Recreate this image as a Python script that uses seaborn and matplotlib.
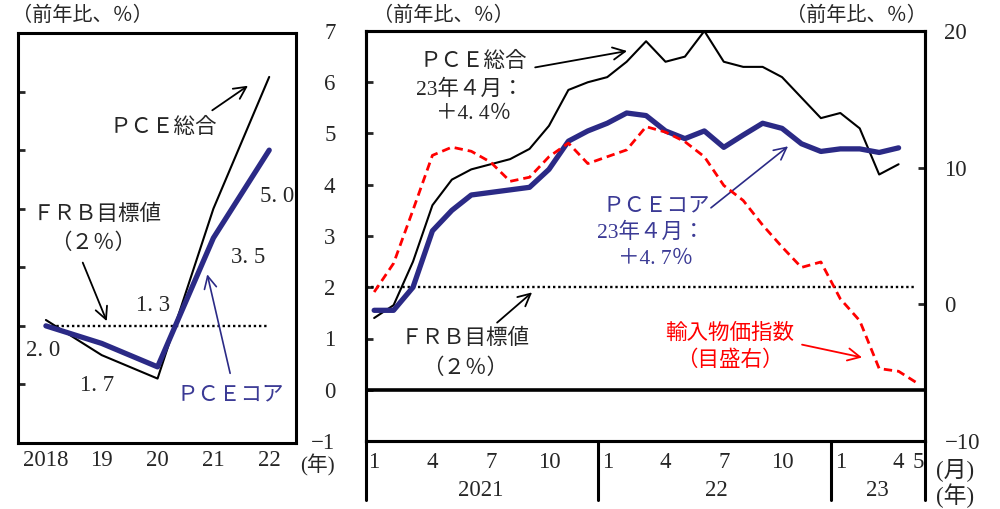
import matplotlib
matplotlib.use('Agg')
import matplotlib.pyplot as plt
import matplotlib.transforms as mtransforms
import seaborn as sns

# ---- data ----
# left panel: annual averages (2018-2022)
year_pos = [0, 1, 2, 3, 4]
year_labels = ['2018', '19', '20', '21', '22']
pce_total_annual = [2.1, 1.5, 1.1, 4.0, 6.25]
pce_core_annual = [2.0, 1.7, 1.3, 3.5, 5.0]
core_value_labels = ['2. 0', '1. 7', '1. 3', '3. 5', '5. 0']

# right panel: monthly, Jan 2021 -> May 2023
month_pos = list(range(29))
pce_total_monthly = [1.4, 1.65, 2.5, 3.6, 4.1, 4.3, 4.4, 4.5, 4.7, 5.15, 5.85, 6.0,
                     6.1, 6.4, 6.8, 6.4, 6.5, 7.0, 6.4, 6.3, 6.3, 6.1, 5.7, 5.3,
                     5.4, 5.1, 4.2, 4.4]
pce_core_monthly = [1.55, 1.55, 2.0, 3.1, 3.5, 3.8, 3.85, 3.9, 3.95, 4.3, 4.85, 5.05,
                    5.2, 5.4, 5.35, 5.05, 4.9, 5.05, 4.73, 4.97, 5.2, 5.1, 4.8, 4.65,
                    4.7, 4.7, 4.63, 4.72]
import_prices = [0.9, 3.0, 6.9, 10.9, 11.5, 11.2, 10.4, 9.0, 9.3, 10.8, 11.8, 10.3,
                 10.8, 11.3, 13.0, 12.6, 11.9, 10.8, 8.7, 7.6, 5.8, 4.2, 2.7, 3.1,
                 0.4, -1.2, -4.7, -4.9, -5.8]
month_ticks = [0, 3, 6, 9, 12, 15, 18, 21, 24, 27, 28]
month_labels = ['1', '4', '7', '10', '1', '4', '7', '10', '1', '4', '5']
year_groups = ['2021', '22', '23']
year_group_centers = [5.5, 17.6, 25.9]
year_breaks = [11.5, 23.5]
frb_target = 2.0

# ---- style ----
sns.set_style('white')
plt.rcParams['font.family'] = ['Liberation Serif', 'Noto Sans CJK JP']
plt.rcParams['axes.unicode_minus'] = True

navy = '#2B2A86'
navy_text = '#3B3A95'
red = '#FF0000'
FS = 15.5     # annotation text
NS = 16.5     # tick numbers

W, H = 1000, 509
fig = plt.figure(figsize=(W / 100, H / 100), dpi=100)


def rect(x0, y0, x1, y1):
    return [x0 / W, 1 - y1 / H, (x1 - x0) / W, (y1 - y0) / H]


def arrow(ax, tail, tip, color='black', lw=1.3):
    ax.annotate('', xy=tip, xytext=tail,
                arrowprops=dict(arrowstyle='->', color=color, lw=lw,
                                mutation_scale=22, shrinkA=0, shrinkB=0))


# ---------------- left panel ----------------
ax1 = fig.add_axes(rect(18, 33, 296, 443))
ax1.hlines(frb_target, year_pos[0], year_pos[-1], colors='black',
           linestyles=(0, (1, 1.2)), lw=1.7)
sns.lineplot(x=year_pos, y=pce_total_annual, ax=ax1, color='black', lw=1.5)
sns.lineplot(x=year_pos, y=pce_core_annual, ax=ax1, color=navy, lw=3.8)
ax1.set_xlim(-0.5, 4.48)
ax1.set_ylim(0, 7)
ax1.set_xticks(year_pos)
ax1.set_xticklabels(year_labels, fontsize=NS)
ax1.set_yticks([1, 2, 3, 4, 5, 6])
ax1.set_yticklabels([])
ax1.tick_params(axis='x', length=0, pad=5)
ax1.tick_params(axis='y', direction='in', length=5, width=2, left=True)
ax1.set_xlabel('')
ax1.set_ylabel('')
for sp in ax1.spines.values():
    sp.set_linewidth(2.2)
    sp.set_color('black')

# value labels for core PCE
core_label_xy = [(-0.05, 1.58), (0.91, 0.98), (1.92, 2.34), (3.62, 3.17), (4.14, 4.2)]
for (lx, ly), s in zip(core_label_xy, core_value_labels):
    ax1.text(lx, ly, s, ha='center', va='center', fontsize=NS)

ax1.text(2.10, 5.37, 'ＰＣＥ総合', ha='center', va='center', fontsize=FS)
arrow(ax1, (2.98, 5.68), (3.62, 6.10))
ax1.text(0.91, 3.90, 'ＦＲＢ目標値', ha='center', va='center', fontsize=FS)
ax1.text(0.84, 3.41, '（２％）', ha='center', va='center', fontsize=FS)
arrow(ax1, (0.66, 3.08), (1.09, 2.08))
ax1.text(3.30, 0.81, 'ＰＣＥコア', ha='center', va='center', fontsize=FS, color=navy_text)
arrow(ax1, (3.30, 1.19), (2.89, 2.88), color=navy, lw=1.2)

fig.text(82 / W, 1 - 16 / H, '（前年比、％）', ha='center', va='center', fontsize=14.5)
fig.text(317 / W, 1 - 465 / H, '(年)', ha='center', va='center', fontsize=15)

# ---------------- right panel ----------------
ax2 = fig.add_axes(rect(366, 31, 925, 441))
ax2.axhline(frb_target, xmin=0, xmax=0.983, color='black', ls=(0, (1, 1.2)), lw=1.7)
ax2.axhline(0, color='black', lw=2.6)
sns.lineplot(x=month_pos[:len(pce_total_monthly)], y=pce_total_monthly, ax=ax2,
             color='black', lw=1.5)
sns.lineplot(x=month_pos[:len(pce_core_monthly)], y=pce_core_monthly, ax=ax2,
             color=navy, lw=3.8)
ax2.set_xlim(-0.42, 28.36)
ax2.set_ylim(-1, 7)
ax2.set_yticks(range(-1, 8))
ax2.set_yticklabels([str(v).replace('-', '\u2212') for v in range(-1, 8)], fontsize=NS)
ax2.set_xticks(month_ticks)
ax2.set_xticklabels(month_labels, fontsize=NS)
ax2.tick_params(axis='x', length=0, pad=8)
ax2.tick_params(axis='y', direction='in', length=5, width=2, left=True, pad=22)
ax2.set_xlabel('')
ax2.set_ylabel('')
for sp in ax2.spines.values():
    sp.set_linewidth(2.2)
    sp.set_color('black')

ax3 = ax2.twinx()
sns.lineplot(x=month_pos[:len(import_prices)], y=import_prices, ax=ax3, color=red,
             lw=2.0, linestyle=(0, (3, 1.8)))
ax3.set_ylim(-10, 20)
ax3.set_yticks([-10, 0, 10, 20])
ax3.set_yticklabels(['\u221210', '0', '10', '20'], fontsize=NS)
ax3.tick_params(axis='y', direction='in', length=5, width=2, right=True, pad=14)
ax3.set_ylabel('')
for sp in ax3.spines.values():
    sp.set_linewidth(2.2)
    sp.set_color('black')

# year row under the month labels
trans = mtransforms.blended_transform_factory(ax2.transData, ax2.transAxes)
for xb in [-0.42] + year_breaks + [28.36]:
    ax2.plot([xb, xb], [0, -0.145], transform=trans, clip_on=False, color='black', lw=2.2)
for name, xc in zip(year_groups, year_group_centers):
    ax2.text(xc, -0.12, name, transform=trans, ha='center', va='center', fontsize=NS)

# annotations
ax2.text(5.10, 6.39, 'ＰＣＥ総合', ha='center', va='center', fontsize=FS)
ax2.text(4.94, 5.86, '23年４月：', ha='center', va='center', fontsize=FS)
ax2.text(5.10, 5.37, '＋4. 4％', ha='center', va='center', fontsize=FS)
arrow(ax2, (8.29, 6.29), (13.02, 6.61))

ax2.text(14.51, 3.57, 'ＰＣＥコア', ha='center', va='center', fontsize=FS, color=navy_text)
ax2.text(14.26, 3.06, '23年４月：', ha='center', va='center', fontsize=FS, color=navy_text)
ax2.text(14.51, 2.55, '＋4. 7％', ha='center', va='center', fontsize=FS, color=navy_text)
arrow(ax2, (17.34, 3.55), (21.31, 4.75), color=navy, lw=1.2)

ax2.text(4.68, 1.00, 'ＦＲＢ目標値', ha='center', va='center', fontsize=FS)
ax2.text(4.68, 0.41, '（２％）', ha='center', va='center', fontsize=FS)
arrow(ax2, (6.33, 1.31), (8.13, 1.90))

ax2.text(18.32, 1.10, '輸入物価指数', ha='center', va='center', fontsize=FS, color=red)
ax2.text(18.32, 0.57, '（目盛右）', ha='center', va='center', fontsize=FS, color=red)
arrow(ax2, (22.03, 0.88), (25.12, 0.63), color=red)

fig.text(443 / W, 1 - 16 / H, '（前年比、％）', ha='center', va='center', fontsize=14.5)
fig.text(856 / W, 1 - 16 / H, '（前年比、％）', ha='center', va='center', fontsize=14.5)
fig.text(955 / W, 1 - 470 / H, '(月)', ha='center', va='center', fontsize=NS)
fig.text(955 / W, 1 - 496 / H, '(年)', ha='center', va='center', fontsize=NS)

fig.savefig('out.png', dpi=100, facecolor='white')
